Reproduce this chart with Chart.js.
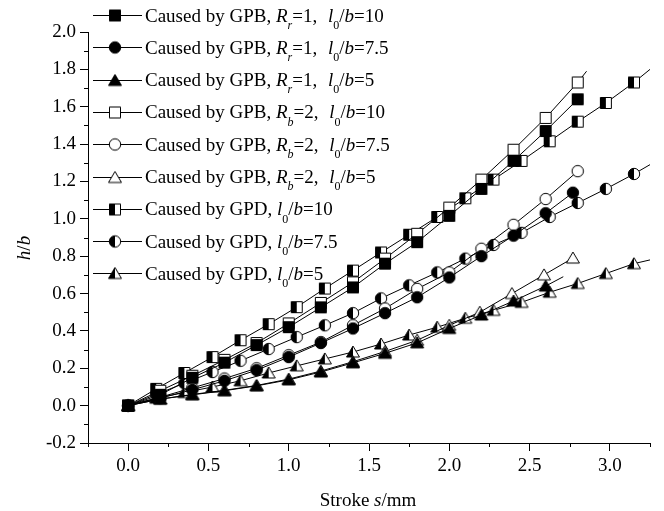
<!DOCTYPE html>
<html>
<head>
<meta charset="utf-8">
<script src="https://cdn.jsdelivr.net/npm/chart.js@4.4.1/dist/chart.umd.min.js"></script>
<style>
  html, body { margin: 0; padding: 0; background: #fff; }
</style>
</head>
<body>
<canvas id="strokeChart" width="664" height="511"></canvas>
<script>
// stroke s (mm) for each series
const strokeGpb = [0, 0.2, 0.4, 0.6, 0.8, 1.0, 1.2, 1.4, 1.6, 1.8, 2.0, 2.2, 2.4, 2.6, 2.8];
const strokeGpbCircle = [0, 0.2, 0.4, 0.6, 0.8, 1.0, 1.2, 1.4, 1.6, 1.8, 2.0, 2.2, 2.4, 2.6, 2.77];
const strokeGpbTri = [0, 0.2, 0.4, 0.6, 0.8, 1.0, 1.2, 1.4, 1.6, 1.8, 2.0, 2.2, 2.4, 2.6];
const strokeGpbTri2 = [0, 0.2, 0.4, 0.6, 0.8, 1.0, 1.2, 1.4, 1.6, 1.8, 2.0, 2.19, 2.39, 2.59, 2.77];
const strokeGpd = [0, 0.175, 0.35, 0.525, 0.7, 0.875, 1.05, 1.225, 1.4, 1.575, 1.75, 1.925, 2.1, 2.275, 2.45, 2.625, 2.8, 2.975, 3.15];

// h/b values
const gpbR1L10 = [0, 0.058, 0.149, 0.23, 0.324, 0.42, 0.526, 0.633, 0.76, 0.875, 1.016, 1.16, 1.31, 1.47, 1.64];
const gpbR1L75 = [0, 0.04, 0.085, 0.133, 0.19, 0.26, 0.335, 0.413, 0.495, 0.58, 0.686, 0.80, 0.91, 1.03, 1.14];
const gpbR1L5 = [0, 0.035, 0.058, 0.08, 0.106, 0.138, 0.18, 0.229, 0.28, 0.336, 0.413, 0.485, 0.56, 0.64];
const gpbR2L10 = [0, 0.08, 0.16, 0.245, 0.335, 0.44, 0.55, 0.66, 0.787, 0.92, 1.06, 1.21, 1.37, 1.54, 1.73];
const gpbR2L75 = [0, 0.045, 0.095, 0.145, 0.2, 0.27, 0.34, 0.43, 0.52, 0.625, 0.713, 0.84, 0.968, 1.106, 1.255];
const gpbR2L5 = [0, 0.035, 0.06, 0.082, 0.108, 0.142, 0.185, 0.235, 0.29, 0.35, 0.43, 0.5, 0.6, 0.7, 0.79];
const gpdL10 = [0, 0.09, 0.175, 0.26, 0.35, 0.436, 0.527, 0.627, 0.723, 0.82, 0.915, 1.01, 1.11, 1.21, 1.31, 1.415, 1.52, 1.62, 1.73];
const gpdL75 = [0, 0.06, 0.12, 0.18, 0.24, 0.303, 0.367, 0.43, 0.495, 0.574, 0.644, 0.713, 0.787, 0.86, 0.925, 1.01, 1.085, 1.16, 1.24];
const gpdL5 = [0, 0.04, 0.07, 0.1, 0.133, 0.175, 0.213, 0.25, 0.287, 0.33, 0.378, 0.42, 0.468, 0.51, 0.553, 0.607, 0.654, 0.707, 0.76];

// where the drawn curves run on past the last marker [s, h]
const endGpbR1L5 = [2.71, 0.69];
const endGpbR2L10 = [2.855, 1.79];
const endGpdL10 = [3.25, 1.80];
const endGpdL75 = [3.25, 1.29];
const endGpdL5 = [3.25, 0.78];

// legend text: *..* italic, _x subscript, ~ extra gap
const seriesLabels = [
  'Caused by GPB, *R_r*=1,~ *l*_0/*b*=10',
  'Caused by GPB, *R_r*=1,~ *l*_0/*b*=7.5',
  'Caused by GPB, *R_r*=1,~ *l*_0/*b*=5',
  'Caused by GPB, *R_b*=2,~ *l*_0/*b*=10',
  'Caused by GPB, *R_b*=2,~ *l*_0/*b*=7.5',
  'Caused by GPB, *R_b*=2,~ *l*_0/*b*=5',
  'Caused by GPD, *l*_0/*b*=10',
  'Caused by GPD, *l*_0/*b*=7.5',
  'Caused by GPD, *l*_0/*b*=5'
];
const markerShapes = ['square', 'circle', 'triangle', 'square', 'circle', 'triangle', 'square', 'circle', 'triangle'];
const markerFills = ['full', 'full', 'full', 'open', 'open', 'open', 'half', 'half', 'half'];

const yTickLabels = ['-0.2', '0.0', '0.2', '0.4', '0.6', '0.8', '1.0', '1.2', '1.4', '1.6', '1.8', '2.0'];
const xTickLabels = ['0.0', '0.5', '1.0', '1.5', '2.0', '2.5', '3.0'];

const FONT = '"Liberation Serif", "Times New Roman", serif';

function makeMarker(shape, fill) {
  const c = document.createElement('canvas');
  c.width = 16; c.height = 16;
  const g = c.getContext('2d');
  const path = () => {
    g.beginPath();
    if (shape === 'square') g.rect(2.5, 2.5, 11, 11);
    else if (shape === 'circle') g.arc(8, 8, 5.7, 0, Math.PI * 2);
    else { g.moveTo(8, 2); g.lineTo(14.5, 13); g.lineTo(1.5, 13); g.closePath(); }
  };
  g.lineWidth = 1;
  g.strokeStyle = '#000';
  path();
  g.fillStyle = fill === 'full' ? '#000' : '#fff';
  g.fill();
  if (fill === 'half') {
    g.save();
    g.beginPath(); g.rect(0, 0, 8, 16); g.clip();
    path(); g.fillStyle = '#000'; g.fill();
    g.restore();
  }
  path();
  g.stroke();
  return c;
}

const markers = markerShapes.map((s, i) => makeMarker(s, markerFills[i]));

function parseRich(str) {
  const parts = [];
  let it = false, buf = '';
  const flush = () => { if (buf) parts.push({ t: buf, it: it, sub: false }); buf = ''; };
  for (let i = 0; i < str.length; i++) {
    const ch = str[i];
    if (ch === '*') { flush(); it = !it; }
    else if (ch === '_') { flush(); parts.push({ t: str[i + 1], it: it, sub: true }); i++; }
    else if (ch === '~') { flush(); parts.push({ gap: 0.32 }); }
    else buf += ch;
  }
  flush();
  return parts;
}

function drawRich(ctx, parts, x, y, size) {
  ctx.textBaseline = 'alphabetic';
  ctx.textAlign = 'left';
  parts.forEach(p => {
    if (p.gap) { x += p.gap * size; return; }
    const fs = p.sub ? Math.round(size * 0.62) : size;
    ctx.font = (p.it ? 'italic ' : '') + fs + 'px ' + FONT;
    ctx.fillText(p.t, x, y + (p.sub ? size * 0.38 : 0));
    x += ctx.measureText(p.t).width;
  });
  return x;
}

function richWidth(ctx, parts, size) {
  let w = 0;
  parts.forEach(p => {
    if (p.gap) { w += p.gap * size; return; }
    const fs = p.sub ? Math.round(size * 0.62) : size;
    ctx.font = (p.it ? 'italic ' : '') + fs + 'px ' + FONT;
    w += ctx.measureText(p.t).width;
  });
  return w;
}

function series(s, h, end) {
  const pts = s.map((x, i) => ({ x: x, y: h[i] }));
  const r = s.map(() => 6);
  if (end) { pts.push({ x: end[0], y: end[1] }); r.push(0); }
  return { pts, r };
}

const seriesData = [
  series(strokeGpb, gpbR1L10),
  series(strokeGpbCircle, gpbR1L75),
  series(strokeGpbTri, gpbR1L5, endGpbR1L5),
  series(strokeGpb, gpbR2L10, endGpbR2L10),
  series(strokeGpb, gpbR2L75),
  series(strokeGpbTri2, gpbR2L5),
  series(strokeGpd, gpdL10, endGpdL10),
  series(strokeGpd, gpdL75, endGpdL75),
  series(strokeGpd, gpdL5, endGpdL5)
];

const datasets = seriesData.map((d, i) => ({
  label: parseRich(seriesLabels[i]).map(p => p.t || '').join(''),
  data: d.pts,
  borderColor: '#000',
  borderWidth: 1,
  pointStyle: markers[i],
  pointRadius: d.r,
  pointHoverRadius: d.r,
  tension: 0,
  fill: false
}));

const decorPlugin = {
  id: 'decor',
  afterDraw(chart) {
    const ctx = chart.ctx;
    const area = chart.chartArea;
    const xs = chart.scales.x, ys = chart.scales.y;
    ctx.save();
    ctx.strokeStyle = '#000';
    ctx.lineWidth = 1;
    // minor ticks
    ctx.beginPath();
    for (let v = -0.1; v < 2.0; v += 0.2) {
      const py = Math.round(ys.getPixelForValue(v)) + 0.5;
      ctx.moveTo(area.left - 4, py); ctx.lineTo(area.left, py);
    }
    for (let v = -0.25; v <= 3.26; v += 0.5) {
      const px = Math.round(xs.getPixelForValue(v)) + 0.5;
      ctx.moveTo(px, area.bottom); ctx.lineTo(px, area.bottom + 4);
    }
    ctx.stroke();

    // axis titles
    ctx.fillStyle = '#000';
    const xt = parseRich('Stroke *s*/mm');
    const w = richWidth(ctx, xt, 19);
    drawRich(ctx, xt, 368 - w / 2, 506, 19);
    ctx.save();
    ctx.translate(30, 248);
    ctx.rotate(-Math.PI / 2);
    const yt = parseRich('*h*/*b*');
    const wy = richWidth(ctx, yt, 19);
    drawRich(ctx, yt, -wy / 2, 0, 19);
    ctx.restore();

    // legend
    seriesLabels.forEach((lab, i) => {
      const cy = 15 + i * 32.3;
      ctx.beginPath();
      ctx.moveTo(93, Math.round(cy) + 0.5);
      ctx.lineTo(142, Math.round(cy) + 0.5);
      ctx.stroke();
      ctx.drawImage(markers[i], 115 - 8, Math.round(cy) - 8 + 0.5);
      drawRich(ctx, parseRich(lab), 145, cy + 6.5, 19);
    });
    ctx.restore();
  }
};

const ctx = document.getElementById('strokeChart').getContext('2d');
new Chart(ctx, {
  type: 'line',
  data: { datasets: datasets },
  options: {
    responsive: false,
    animation: false,
    events: [],
    layout: { padding: { top: 32, right: 14, left: 0, bottom: 0 } },
    plugins: { legend: { display: false }, tooltip: { enabled: false } },
    scales: {
      x: {
        type: 'linear',
        min: -0.25,
        max: 3.25,
        afterFit: s => { s.height = 68; },
        ticks: {
          stepSize: 0.25,
          color: '#000',
          padding: 4,
          maxRotation: 0,
          autoSkip: false,
          font: { family: FONT, size: 19 },
          callback: v => {
            const k = Math.round(v * 4);
            if (k % 2 !== 0) return '';
            const lab = (k / 4).toFixed(1);
            return xTickLabels.includes(lab) ? lab : '';
          }
        },
        grid: {
          drawOnChartArea: false,
          tickLength: 8,
          tickColor: c => (Math.round(c.tick.value * 4) % 2 === 0 ? '#000' : 'rgba(0,0,0,0)')
        },
        border: { display: true, color: '#000', width: 1 }
      },
      y: {
        type: 'linear',
        min: -0.2,
        max: 2.0,
        afterFit: s => { s.width = 88; },
        ticks: {
          stepSize: 0.1,
          color: '#000',
          padding: 4,
          autoSkip: false,
          font: { family: FONT, size: 19 },
          callback: v => {
            const k = Math.round(v * 10);
            if (k % 2 !== 0) return '';
            const lab = (k / 10).toFixed(1);
            return yTickLabels.includes(lab) ? lab : '';
          }
        },
        grid: {
          drawOnChartArea: false,
          tickLength: 8,
          tickColor: c => (Math.round(c.tick.value * 10) % 2 === 0 ? '#000' : 'rgba(0,0,0,0)')
        },
        border: { display: true, color: '#000', width: 1 }
      }
    }
  },
  plugins: [decorPlugin]
});
</script>
</body>
</html>
